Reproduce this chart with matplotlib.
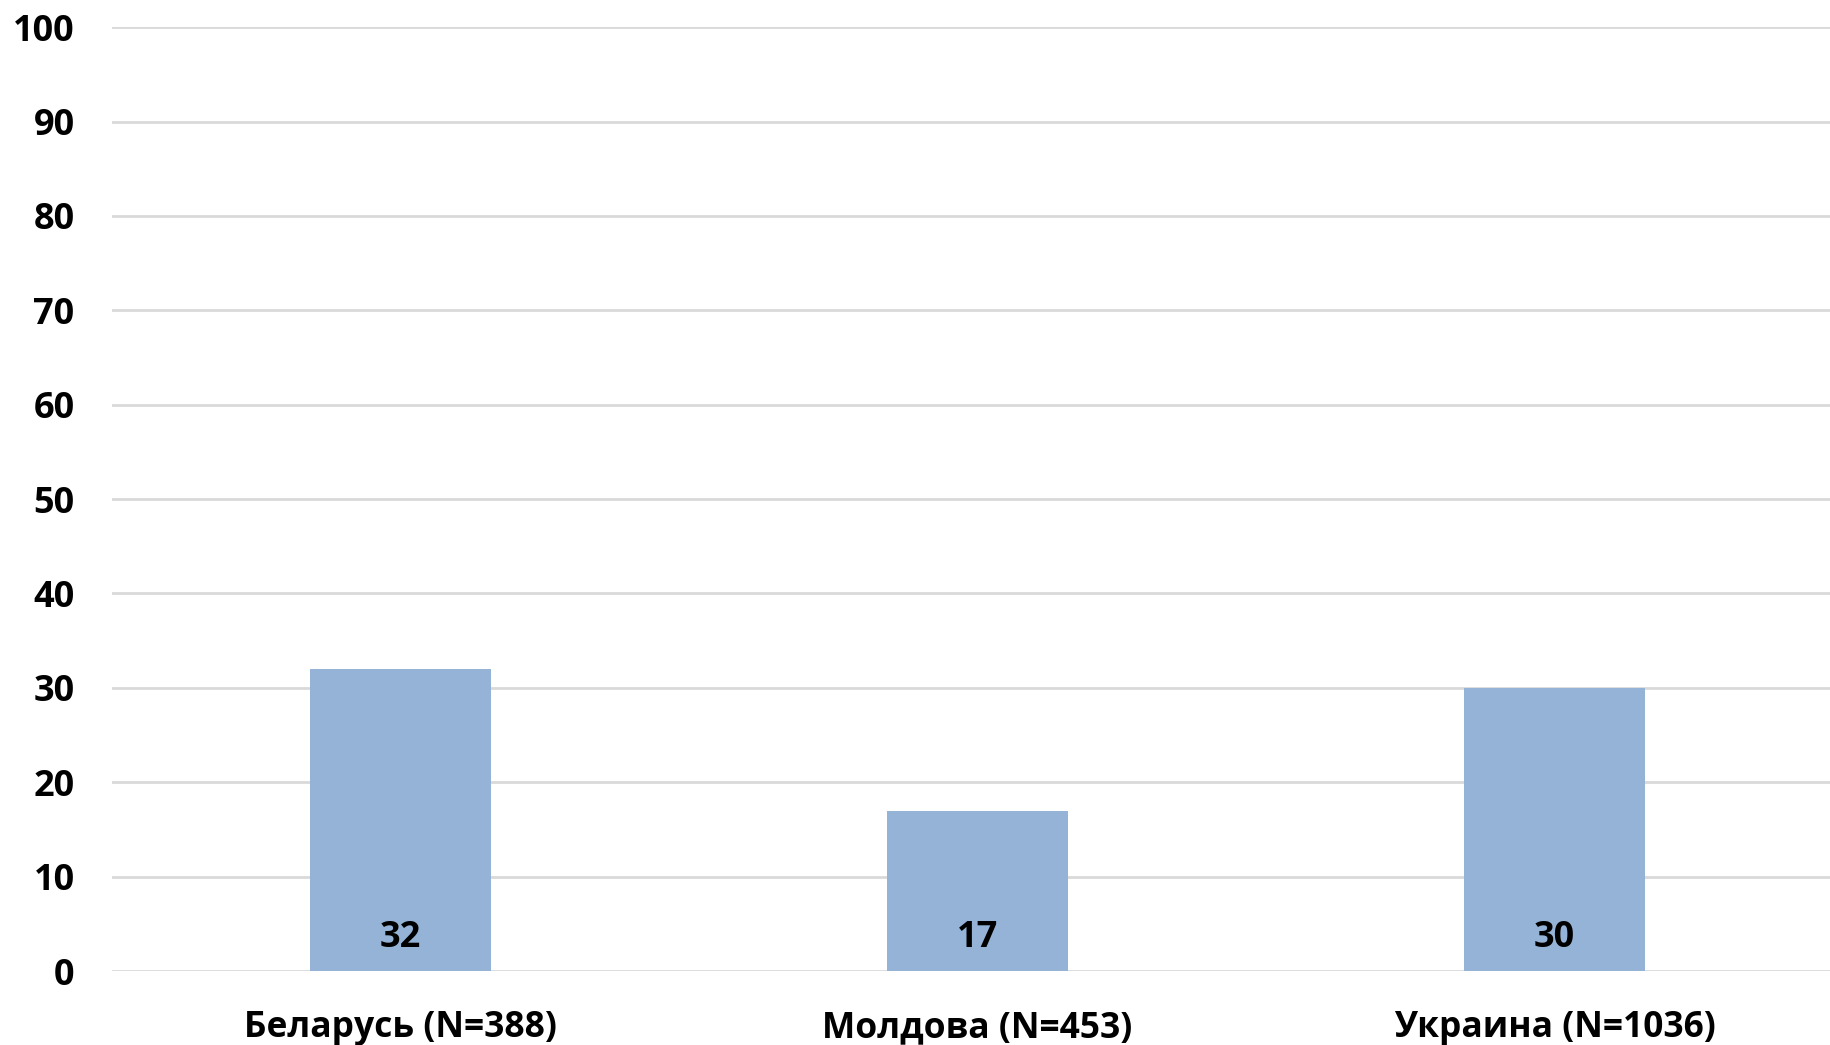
import matplotlib
matplotlib.use("Agg")
import matplotlib.pyplot as plt

# data
paises = ["Беларусь (N=388)", "Молдова (N=453)", "Украина (N=1036)"]
valores = [32, 17, 30]
yticks = [0, 10, 20, 30, 40, 50, 60, 70, 80, 90, 100]

plt.rcParams['font.family'] = ['Open Sans', 'DejaVu Sans']
plt.rcParams['font.weight'] = 'bold'

fig = plt.figure(figsize=(18.31, 10.45), dpi=100)
# plot area runs a bit past the right edge, as in the reference
ax = fig.add_axes([0.0612, 0.0708, 0.9454, 0.9032])

x = range(len(paises))
ax.bar(x, valores, width=0.314, color='#95B3D7', zorder=3)

for xi, v in zip(x, valores):
    ax.annotate(str(v), (xi, 0), xytext=(0, 24), textcoords='offset points',
                ha='center', va='center', fontsize=26, fontweight='bold', zorder=4)

ax.set_xlim(-0.5, 2.5)
ax.set_ylim(0, 100)
ax.set_yticks(yticks)
ax.set_xticks(list(x))
ax.set_xticklabels(paises, fontsize=25.5, fontweight='bold')
ax.tick_params(axis='y', labelsize=26, length=0, pad=27)
ax.tick_params(axis='x', length=0, pad=28)
for lbl in ax.get_yticklabels():
    lbl.set_fontweight('bold')

ax.grid(axis='y', color='#D9D9D9', linewidth=2, zorder=0)
for s in ax.spines.values():
    s.set_visible(False)

fig.savefig('out.png', dpi=100)
